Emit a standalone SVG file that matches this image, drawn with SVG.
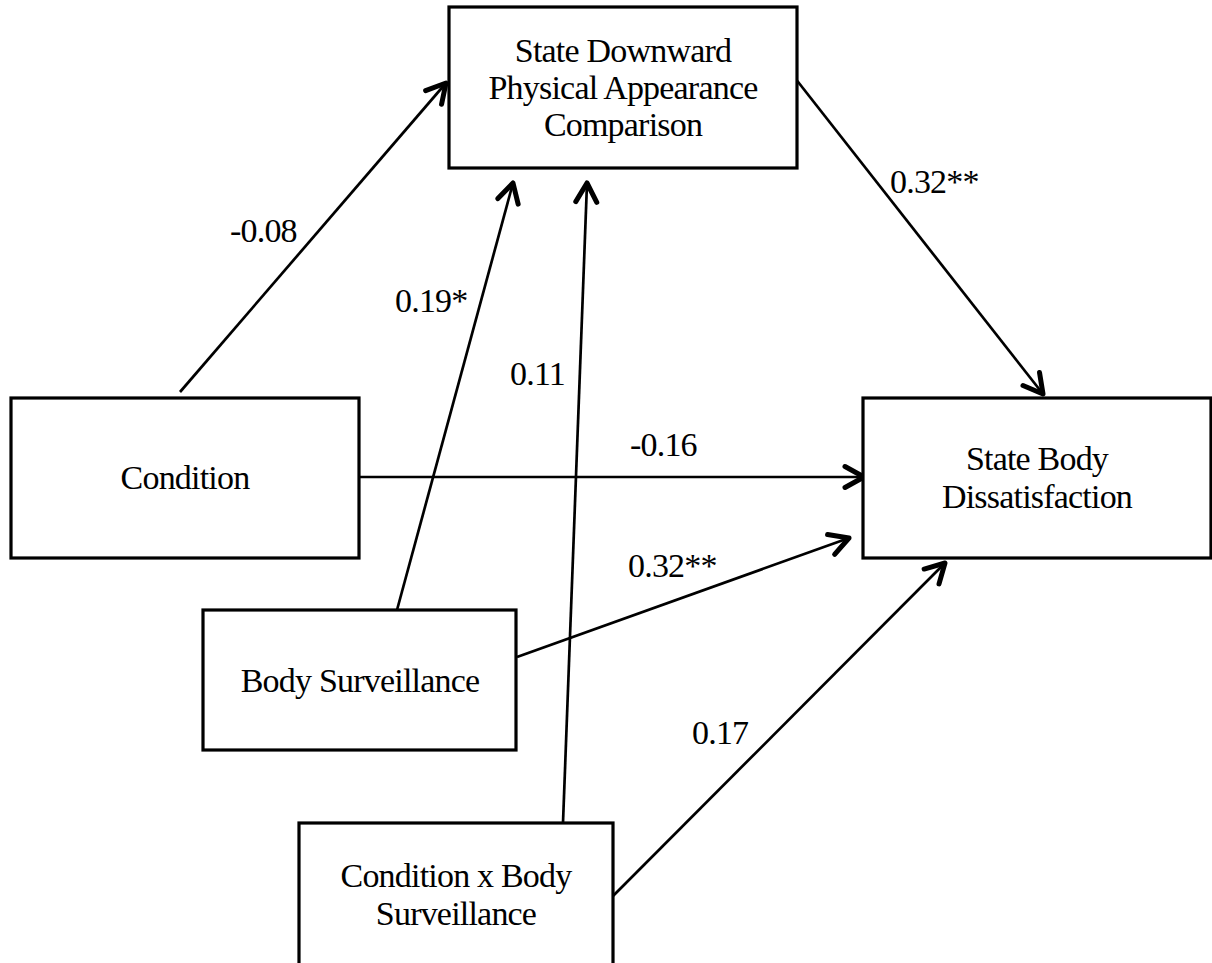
<svg xmlns="http://www.w3.org/2000/svg" width="1212" height="963" viewBox="0 0 1212 963">
<style>
.box{fill:#fff;stroke:#000;stroke-width:3.2}
.t{font-family:"Liberation Serif","Times New Roman",serif;font-size:34px;letter-spacing:-0.8px;fill:#000;text-anchor:middle}
.l{font-family:"Liberation Serif","Times New Roman",serif;font-size:34px;letter-spacing:-0.8px;fill:#000}
.c{stroke:#000;stroke-width:2.7;fill:none;marker-end:url(#ah)}
</style>
<defs>
<marker id="ah" markerUnits="userSpaceOnUse" viewBox="-26 -16 32 32" markerWidth="32" markerHeight="32" refX="0" refY="0" orient="auto">
<path d="M-19,-10.5 L0,0 L-19,10.5" fill="none" stroke="#000" stroke-width="5" stroke-linecap="round" stroke-linejoin="round"/>
</marker>
</defs>
<rect width="1212" height="963" fill="#fff"/>
<g id="connectors">
<line class="c" x1="180" y1="392" x2="446" y2="83"/>
<line class="c" x1="397" y1="610" x2="513" y2="183"/>
<line class="c" x1="563" y1="823" x2="587" y2="183"/>
<line class="c" x1="795" y1="78" x2="1043" y2="394"/>
<line class="c" x1="360" y1="477" x2="864" y2="477"/>
<line class="c" x1="517" y1="657" x2="849" y2="538"/>
<line class="c" x1="612" y1="897" x2="945" y2="563"/>
</g>
<g id="labels">
<text class="l" x="230" y="242">-0.08</text>
<text class="l" x="395" y="312">0.19*</text>
<text class="l" x="510" y="385">0.11</text>
<text class="l" x="890" y="193">0.32**</text>
<text class="l" x="630" y="456">-0.16</text>
<text class="l" x="628" y="577">0.32**</text>
<text class="l" x="692" y="744">0.17</text>
</g>
<g id="node-comparison">
<rect class="box" x="449" y="7" width="348" height="161"/>
<text class="t" x="623" y="62">State Downward</text>
<text class="t" x="623" y="99">Physical Appearance</text>
<text class="t" x="623" y="136">Comparison</text>
</g>
<g id="node-condition">
<rect class="box" x="11" y="398" width="348" height="160"/>
<text class="t" x="185" y="489">Condition</text>
</g>
<g id="node-dissatisfaction">
<rect class="box" x="863" y="398" width="348" height="160"/>
<text class="t" x="1037" y="470">State Body</text>
<text class="t" x="1037" y="508">Dissatisfaction</text>
</g>
<g id="node-surveillance">
<rect class="box" x="203" y="610" width="313" height="140"/>
<text class="t" x="360" y="692">Body Surveillance</text>
</g>
<g id="node-interaction">
<rect class="box" x="299" y="823" width="314" height="170"/>
<text class="t" x="456" y="887">Condition x Body</text>
<text class="t" x="456" y="925">Surveillance</text>
</g>
</svg>
